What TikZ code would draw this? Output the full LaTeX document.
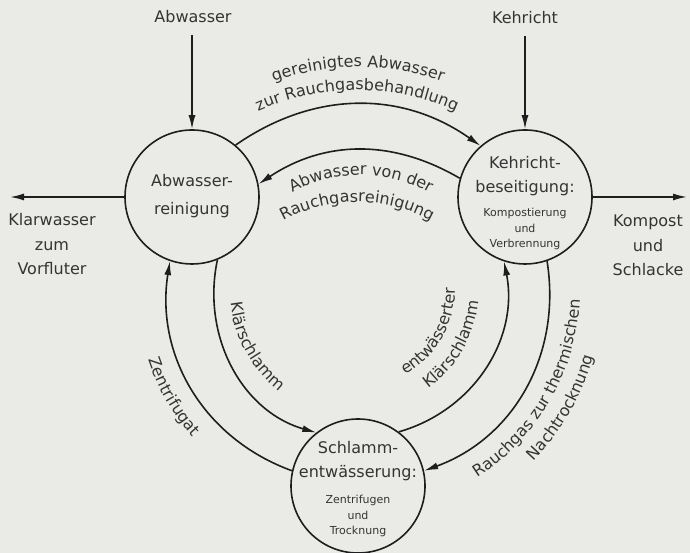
\documentclass[tikz,border=0pt]{standalone}
\usepackage{fontspec}
\setmainfont{DejaVu Sans}
\usetikzlibrary{arrows.meta,decorations.text}
\definecolor{paper}{RGB}{234,234,230}
\definecolor{ink}{RGB}{30,30,30}
\definecolor{inktext}{RGB}{52,52,52}
\newcommand{\bigfont}{\fontsize{16}{24.5}\selectfont}
\newcommand{\subfont}{\fontsize{11}{15.5}\selectfont}
\tikzset{
	proc/.style={circle, draw=ink, line width=1.6pt, minimum size=134pt, inner sep=0pt},
	flow/.style={draw=ink, line width=1.6pt, -{Latex[length=14pt,width=7pt]}},
	txt/.style={text=inktext, font=\bigfont, align=center, anchor=base, inner sep=0pt},
	subtxt/.style={text=inktext, font=\subfont, align=center, anchor=base, inner sep=0pt},
	bow/.style={decorate, decoration={text along path, text align=center, text color=inktext, text={|\bigfont|#1}}}
}
\begin{document}
\begin{tikzpicture}[x=1pt, y=1pt]
	\fill[paper] (0,0) rectangle (690,553);
	\useasboundingbox (0,0) rectangle (690,553);
	\node[proc] (abw) at (192,356) {};
	\node[proc] (keh) at (525,356) {};
	\node[proc] (sch) at (358,67) {};
	\node[txt, font=\fontsize{16}{28}\selectfont] (abwtxt) at (192,338) {Abwasser-\\reinigung};
	\node[txt] (kehtxt) at (525,360) {Kehricht-\\beseitigung:};
	\node[subtxt] (kehsub) at (525,305) {Kompostierung\\und\\Verbrennung};
	\node[txt] (schtxt) at (358,75) {Schlamm-\\entwässerung:};
	\node[subtxt] (schsub) at (358,18) {Zentrifugen\\und\\Trocknung};
	\node[txt] (abwlbl) at (193,530) {Abwasser};
	\node[txt] (kehlbl) at (525,529) {Kehricht};
	\node[txt] (klartxt) at (52,278) {Klarwasser\\zum\\Vorfluter};
	\node[txt] (komptxt) at (648,277) {Kompost\\und\\Schlacke};
	\coordinate (abwin) at (192,518);
	\coordinate (kehin) at (525,517);
	\coordinate (klarout) at (10,356);
	\coordinate (kompout) at (687,356);
	\coordinate (gerc) at (358,239);
	\coordinate (zurc) at (357,221);
	\coordinate (vonc) at (361,239);
	\coordinate (reic) at (357,198);
	\coordinate (sidec) at (358,263);
	\draw[flow] (abwin) -- (abw);
	\draw[flow] (kehin) -- (keh);
	\draw[flow] (abw.west) -- (klarout);
	\draw[flow] (keh.east) -- (kompout);
	\draw[flow] (abw.50) to[bend left=35] (keh.131);
	\draw[flow] (keh.164) to[bend right=32] (abw.11);
	\draw[flow] (abw.-68) to[out=-102, in=164] (sch.128);
	\draw[flow] (sch.167) to[out=160, in=-99] (abw.251);
	\draw[flow] (sch.53) to[out=16, in=-79] (keh.252);
	\draw[flow] (keh.289) to[out=-81, in=20] (sch.13);
	% Beschriftung der Boegen
	\path[bow={gereinigtes Abwasser}, shift={(gerc)}] (135:247) arc[start angle=135, end angle=45, radius=247];
	\path[bow={zur Rauchgasbehandlung}, shift={(zurc)}] (140:242) arc[start angle=140, end angle=40, radius=242];
	\path[bow={Abwasser von der}, shift={(vonc)}] (145:139) arc[start angle=145, end angle=35, radius=139];
	\path[bow={Rauchgasreinigung}, shift={(reic)}] (140:153) arc[start angle=140, end angle=40, radius=153];
	\path[bow={Klärschlamm}, shift={(sidec)}] (164:128) arc[start angle=164, end angle=254, radius=128];
	\path[bow={Zentrifugat}, shift={(sidec)}] (165:221) arc[start angle=165, end angle=255, radius=221];
	\path[bow={entwässerter}, shift={(sidec)}] (-75:97) arc[start angle=-75, end angle=15, radius=97];
	\path[bow={Klärschlamm}, shift={(sidec)}] (-75:121) arc[start angle=-75, end angle=15, radius=121];
	\path[bow={Rauchgas zur thermischen}, shift={(sidec)}] (-75:222) arc[start angle=-75, end angle=15, radius=222];
	\path[bow={Nachtrocknung}, shift={(sidec)}] (-75:245) arc[start angle=-75, end angle=15, radius=245];
\end{tikzpicture}
\end{document}
